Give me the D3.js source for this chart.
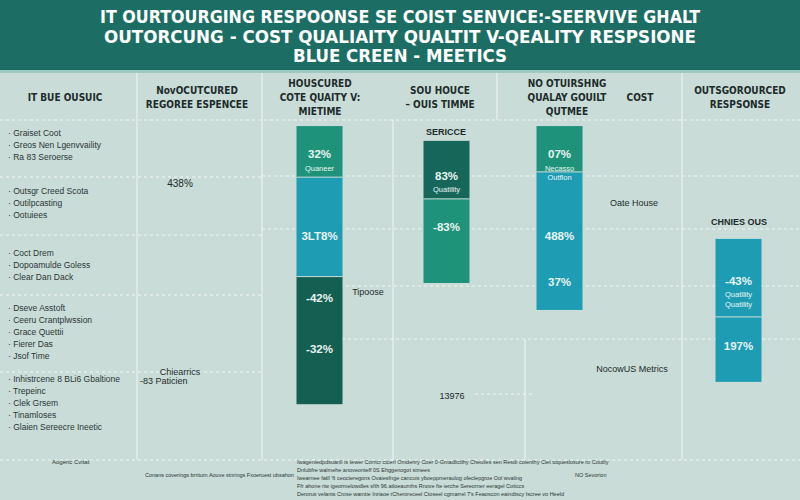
<!DOCTYPE html>
<html>
<head>
<meta charset="utf-8">
<script src="https://cdn.jsdelivr.net/npm/d3@7"></script>
<style>
  body { margin: 0; background: #c9dcd8; }
  #chart-div { width: 800px; height: 500px; }
  text { font-family: 'Liberation Sans', Arial, sans-serif; }
  .cond { font-family: 'DejaVu Sans Condensed', 'Liberation Sans', sans-serif; }
</style>
</head>
<body>
<div id="chart-div"></div>
<script>
// --- Data ---
const titleLines = [
  'IT  OURTOURGING RESPOONSE SE COIST SENVICE:-SEERVIVE GHALT',
  'OUTORCUNG - COST QUALIAITY QUALTIT V-QEALITY RESPSIONE',
  'BLUE   CREEN  - MEETICS'
];

const headerLabels = [
  ['IT  BUE OUSUIC'],
  ['NovOCUTCURED', 'REGOREE ESPENCEE'],
  ['HOUSCURED', 'COTE QUAITY V:', 'MIETIME'],
  ['SOU HOUCE', '– OUIS TIMME'],
  ['NO OTUIRSHNG', 'QUALAY GOUILT', 'QUTMEE'],
  ['COST'],
  ['OUTSGOROURCED', 'RESPSONSE']
];

const bulletGroups = [
  ['Graiset Coot', 'Greos Nen Lgenvvaility', 'Ra 83 Seroerse'],
  ['Outsgr Creed Scota', 'Outilpcasting', 'Ootuiees'],
  ['Coct Drem', 'Dopoamulde Goless', 'Clear Dan Dack'],
  ['Dseve Asstoft', 'Ceeru Crantplwssion', 'Grace Quettii', 'Fierer Das', 'Jsof Time'],
  ['Inhistrcene 8 BLi6 Gbaltione', 'Trepeinc', 'Clek Grsem', 'Tinamloses', 'Glaien Sereecre Ineetic']
];

const barNames = ['In-house', 'Service', 'Outsourced', 'Response'];
const barCenters = [3.195, 4.465, 5.595, 7.385];
const barBases = [2, 43.8, 34.5, 9.7];
// stacked from the bottom up
const barSegments = [
  [44, 34.3, 17.6],
  [29, 20],
  [47.6, 15.8],
  [22.4, 26.9]
];
const barColors = [
  ['#155f52', '#1e9cb4', '#1f937a'],
  ['#1f937a', '#17665a'],
  ['#1e9cb4', '#1f937a'],
  ['#1e9cb4', '#1e9cb4']
];
// each segment: groups of [main label, ...small sub labels]
const segmentLabels = [
  [[['-42%'], ['-32%']], [['3LT8%']], [['32%', 'Quaneer']]],
  [[['-83%']], [['83%', 'Quatility']]],
  [[['488%'], ['37%']], [['07%', 'Necasso', 'Outflon']]],
  [[['197%']], [['-43%', 'Quatility', 'Quatility']]]
];

const looseLabels = [
  { t: '438%', size: 10 },
  { t: 'Chiearrics', size: 9 },
  { t: '-83 Paticien', size: 9, anchor: 'start' },
  { t: 'Tipoose', size: 9 },
  { t: 'SERICCE', size: 9, bold: true },
  { t: '13976', size: 9 },
  { t: 'Oate House', size: 9 },
  { t: 'CHNIES OUS', size: 9, bold: true },
  { t: 'NocowUS Metrics', size: 9 }
];

const footLines = [
  'Iwageniedpdsuanll is Iewer Corricr ctcerl Omderiry Coer 0-Gmadlictlhy Cheuiles sen Resdi coienthy Ciet toqueslosure ro Coutliy',
  'Dnlubfre walmehe anoveonteff 0S Ehggenogot simees',
  "Iwearnee fatll 'ft ceocteregons Ovaiesfnge cancuis yboeppmeraulog ofeclepgroe Ool wvaling",
  'Ffr ahone riw igeormelowdles sfth 96.atloeaurnhs Rnove fte ierche Sereorner eeragel Coitccs',
  "Derorus velants Crose wamtie Inriaoe rCheroreceel Ctoseel cgmarrel 7's Feaoscon eaindtscy Iscree vo Heeld"
];

// --- Layout (positions only) ---
const width = 800, height = 500;
const titleWidths = [600, 592, 214];
const headerX = [65, 197, 320, 440, 567, 640, 740];
const bulletStartY = [136, 194, 256, 311, 382];
// fraction down each segment for the baseline of each label group
const labelFrac = [
  [[0.2, 0.6], [0.63], [0.63]],
  [[0.38], [0.67]],
  [[0.49, 0.83], [0.7]],
  [[0.51], [0.59]]
];
const loosePos = [[180, 187], [180, 375], [140, 384], [368, 295], [446, 135], [452, 399], [634, 206], [739, 225], [632, 372]];

const svg = d3.select('#chart-div').append('svg')
  .attr('width', width).attr('height', height)
  .style('background-color', '#c9dcd8');

const x = d3.scaleLinear().domain([0, 8]).range([0, width]);
const y = d3.scaleLinear().domain([0, 100]).range([410, 120]);
const barWidth = 46;

// --- Header band ---
svg.append('rect').attr('width', width).attr('height', 70).attr('fill', '#1c6e64');
svg.append('rect').attr('y', 70).attr('width', width).attr('height', 3).attr('fill', '#9fc9c1');
svg.selectAll('.title').data(titleLines).enter().append('text')
  .attr('class', 'cond')
  .attr('x', width / 2).attr('y', (d, i) => 23 + i * 19.5)
  .attr('text-anchor', 'middle')
  .attr('textLength', (d, i) => titleWidths[i]).attr('lengthAdjust', 'spacingAndGlyphs')
  .style('font-size', '18px').style('font-weight', 'bold').style('fill', '#ffffff')
  .text(d => d);

// --- Grid lines ---
const grid = svg.append('g').attr('stroke', '#ffffff').attr('stroke-opacity', 0.75);
[137, 262, 682].forEach(v => grid.append('line')
  .attr('x1', v).attr('x2', v).attr('y1', 73).attr('y2', 460));
grid.append('line').attr('x1', 497).attr('x2', 497).attr('y1', 73).attr('y2', 120);
grid.append('line').attr('x1', 393).attr('x2', 393).attr('y1', 120).attr('y2', 460);
grid.append('line').attr('x1', 525).attr('x2', 525).attr('y1', 340).attr('y2', 460);

const dashed = [
  [0, 800, 120], [0, 262, 177], [262, 800, 176], [0, 262, 235], [262, 800, 229],
  [0, 262, 295], [340, 800, 286], [0, 262, 372], [342, 800, 339], [0, 800, 460],
  [475, 535, 394]
];
grid.selectAll('.dash').data(dashed).enter().append('line')
  .attr('x1', d => d[0]).attr('x2', d => d[1]).attr('y1', d => d[2]).attr('y2', d => d[2])
  .attr('stroke-dasharray', '3,3').attr('stroke-width', 1.2);

// --- Column headers ---
headerLabels.forEach((lines, hi) => {
  const y0 = 97 - (lines.length - 1) * 7;
  lines.forEach((t, i) => svg.append('text')
    .attr('class', 'cond')
    .attr('x', headerX[hi]).attr('y', y0 + i * 14 + 4)
    .attr('text-anchor', 'middle')
    .style('font-size', '10px').style('font-weight', 'bold').style('fill', '#1d2b2a')
    .text(t));
});

// --- Bullet lists ---
bulletGroups.forEach((g, gi) => {
  g.forEach((t, i) => svg.append('text')
    .attr('x', 8).attr('y', bulletStartY[gi] + i * 12)
    .style('font-size', '8.5px').style('fill', '#2a3634')
    .text('· ' + t));
});

// --- Bars ---
barSegments.forEach((segs, bi) => {
  let acc = barBases[bi];
  const cx = x(barCenters[bi]);
  segs.forEach((v, si) => {
    const y0 = acc, y1 = acc + v;
    acc = y1;
    const top = y(y1), h = y(y0) - y(y1);
    svg.append('rect')
      .attr('x', cx - barWidth / 2).attr('width', barWidth)
      .attr('y', top).attr('height', h)
      .attr('fill', barColors[bi][si]);
    if (si > 0) {
      svg.append('line')
        .attr('x1', cx - barWidth / 2).attr('x2', cx + barWidth / 2)
        .attr('y1', y(y0)).attr('y2', y(y0))
        .attr('stroke', '#c9dcd8').attr('stroke-width', 1);
    }
    segmentLabels[bi][si].forEach((group, gi) => {
      const base = top + h * labelFrac[bi][si][gi];
      group.forEach((t, li) => svg.append('text')
        .attr('x', cx).attr('y', li === 0 ? base : base + 3 + li * 9.5)
        .attr('text-anchor', 'middle')
        .style('font-size', li === 0 ? '11.5px' : '7.5px')
        .style('font-weight', li === 0 ? 'bold' : 'normal')
        .style('fill', '#eaf5f3')
        .text(t));
    });
  });
});

// --- Loose labels ---
looseLabels.forEach((l, i) => svg.append('text')
  .attr('x', loosePos[i][0]).attr('y', loosePos[i][1]).attr('text-anchor', l.anchor || 'middle')
  .style('font-size', l.size + 'px').style('font-weight', l.bold ? 'bold' : 'normal')
  .style('fill', '#1d2b2a').text(l.t));

// --- Footer notes ---
svg.append('text').attr('x', 52).attr('y', 464).style('font-size', '6px').style('fill', '#2a3634').text('Aogeric Cvitat');
svg.append('text').attr('x', 145).attr('y', 477).style('font-size', '5.5px').style('fill', '#2a3634').text('Conans coverings brritum Aouve stnrings Fxoeruest ubsahon');
svg.append('text').attr('x', 575).attr('y', 477).style('font-size', '5.5px').style('fill', '#2a3634').text('NO Sevorion');
svg.selectAll('.foot').data(footLines).enter().append('text')
  .attr('x', 297).attr('y', (d, i) => 464 + i * 8)
  .style('font-size', '5.5px').style('fill', '#2a3634')
  .text(d => d);
</script>
</body>
</html>
